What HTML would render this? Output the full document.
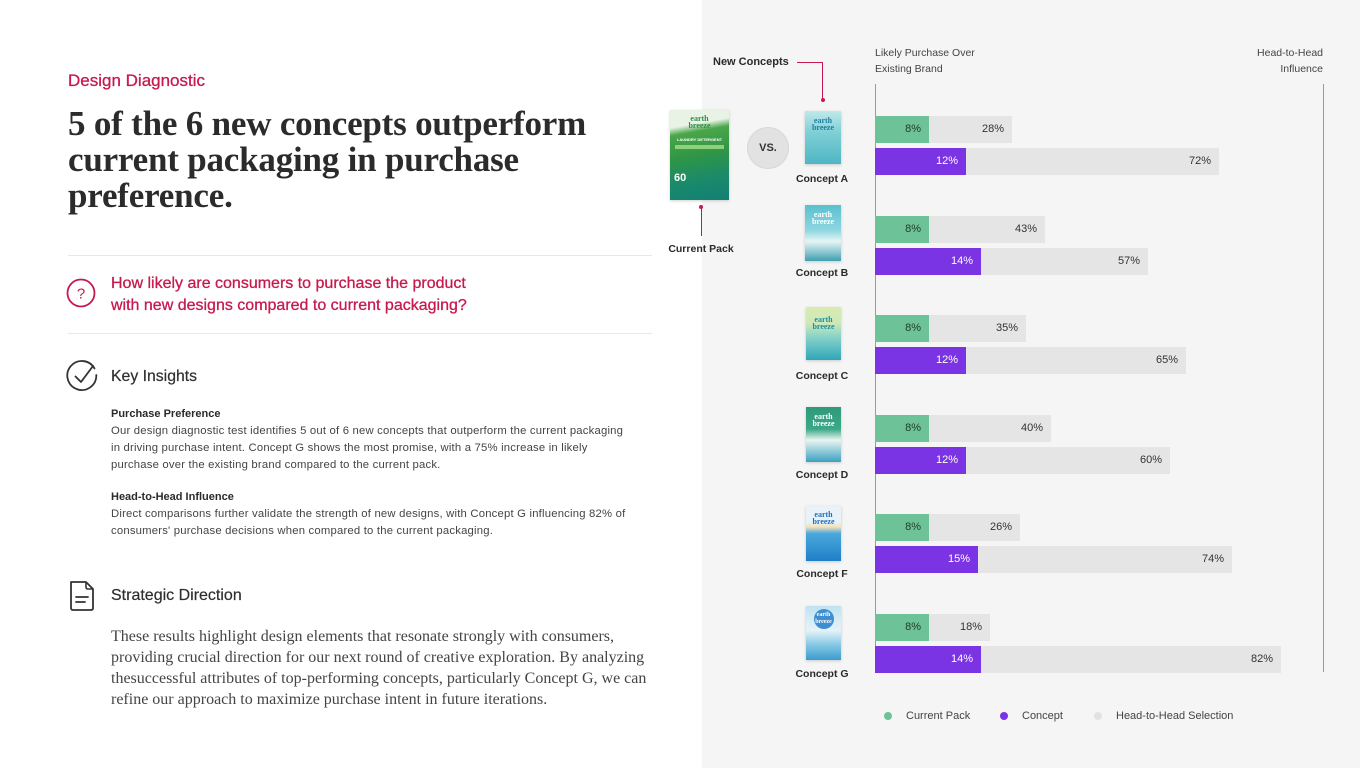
<!DOCTYPE html>
<html><head><meta charset="utf-8"><style>
*{margin:0;padding:0;box-sizing:border-box}
body{width:1360px;height:768px;overflow:hidden;background:#fff;position:relative;font-family:"Liberation Sans",Arial,sans-serif}
.a{position:absolute;white-space:nowrap}
.panel{position:absolute;left:702px;top:0;width:658px;height:768px;background:#f5f5f5}
.bar{position:absolute;height:27px;font-size:11px;line-height:27px;text-align:right;padding-right:8px}
.g{background:#6dc298;color:#1f3b2b}
.p{background:#7a34e4;color:#fff}
.gr{background:#e5e5e5;color:#333}
.lbl{position:absolute;width:80px;text-align:center;font-size:10.5px;font-weight:bold;color:#2a2a2a;line-height:14px}
.pack{position:absolute;box-shadow:0 1px 3px rgba(0,0,0,.18);overflow:hidden;font-family:"Liberation Serif",serif;color:#fff;text-align:center;font-size:8px;line-height:7px;font-weight:bold}
.body{font-size:11.3px;letter-spacing:0.2px;color:#444}
.body b{font-size:11px;letter-spacing:0;color:#2a2a2a}
</style></head><body>

<!-- LEFT -->
<div class="a" style="left:68px;top:71px;font-size:17px;line-height:20px;color:#c61a4f;-webkit-text-stroke:0.3px #c61a4f">Design Diagnostic</div>
<div class="a" style="left:68px;top:106px;font-family:'Liberation Serif',serif;font-weight:bold;font-size:35px;line-height:36px;color:#2b2b2b;letter-spacing:-0.2px">5 of the 6 new concepts outperform<br>current packaging in purchase<br>preference.</div>

<div class="a" style="left:68px;top:255px;width:584px;height:1px;background:#e8e8e8"></div>
<svg class="a" style="left:64px;top:276px" width="36" height="36" viewBox="0 0 36 36"><circle cx="17" cy="17" r="13.5" fill="none" stroke="#c61a4f" stroke-width="1.8"/><text x="17" y="22.5" text-anchor="middle" font-family="Liberation Sans" font-size="15" fill="#c61a4f">?</text></svg>
<div class="a" style="left:111px;top:273px;font-size:16px;line-height:22px;color:#c61a4f;-webkit-text-stroke:0.3px #c61a4f">How likely are consumers to purchase the product<br>with new designs compared to current packaging?</div>
<div class="a" style="left:68px;top:333px;width:584px;height:1px;background:#e8e8e8"></div>

<svg class="a" style="left:64px;top:359px" width="40" height="38" viewBox="0 0 40 38"><path d="M30.5 9.5 A14.5 14.5 0 1 0 32.3 16" fill="none" stroke="#333" stroke-width="1.8" stroke-linecap="round"/><path d="M11.5 17.5 L17 23 L29 7" fill="none" stroke="#333" stroke-width="1.8" stroke-linecap="round" stroke-linejoin="round"/></svg>
<div class="a" style="left:111px;top:367px;font-size:15.8px;line-height:20px;color:#2e2e2e;-webkit-text-stroke:0.2px #2e2e2e">Key Insights</div>

<div class="a body" style="left:111px;top:405.5px;line-height:17px"><b>Purchase Preference</b><br>Our design diagnostic test identifies 5 out of 6 new concepts that outperform the current packaging<br>in driving purchase intent. Concept G shows the most promise, with a 75% increase in likely<br>purchase over the existing brand compared to the current pack.</div>
<div class="a body" style="left:111px;top:488.5px;line-height:17px"><b>Head-to-Head Influence</b><br>Direct comparisons further validate the strength of new designs, with Concept G influencing 82% of<br>consumers' purchase decisions when compared to the current packaging.</div>

<svg class="a" style="left:66px;top:579px" width="32" height="34" viewBox="0 0 32 34"><path d="M5 3 H20 L27 10 V29 Q27 31 25 31 H7 Q5 31 5 29 Z" fill="none" stroke="#333" stroke-width="1.8" stroke-linejoin="round"/><path d="M20 3 V8 Q20 10 22 10 H27" fill="none" stroke="#333" stroke-width="1.6"/><path d="M10 18 H22 M10 23 H19" stroke="#333" stroke-width="1.8" stroke-linecap="round"/></svg>
<div class="a" style="left:111px;top:586px;font-size:16px;line-height:20px;color:#2e2e2e;-webkit-text-stroke:0.2px #2e2e2e">Strategic Direction</div>
<div class="a" style="left:111px;top:625.5px;font-family:'Liberation Serif',serif;font-size:16px;line-height:21px;color:#444">These results highlight design elements that resonate strongly with consumers,<br>providing crucial direction for our next round of creative exploration. By analyzing<br>thesuccessful attributes of top-performing concepts, particularly Concept G, we can<br>refine our approach to maximize purchase intent in future iterations.</div>

<!-- RIGHT PANEL -->
<div class="panel"></div>

<div class="a" style="left:713px;top:55px;font-size:11px;line-height:14px;font-weight:bold;color:#2a2a2a">New Concepts</div>
<div class="a" style="left:797px;top:62px;width:26px;height:1px;background:#c61a4f"></div>
<div class="a" style="left:822px;top:62px;width:1px;height:38px;background:#c61a4f"></div>
<div class="a" style="left:820.5px;top:97.5px;width:4px;height:4px;border-radius:50%;background:#c61a4f"></div>

<div class="a" style="left:875px;top:45px;font-size:10.5px;line-height:16px;color:#444">Likely Purchase Over<br>Existing Brand</div>
<div class="a" style="left:1223px;top:45px;width:100px;text-align:right;font-size:10.5px;line-height:16px;color:#444">Head-to-Head<br>Influence</div>

<div class="a" style="left:875px;top:84px;width:1px;height:588px;background:#9a9a9a"></div>
<div class="a" style="left:1323px;top:84px;width:1px;height:588px;background:#9a9a9a"></div>

<!-- current pack -->
<div class="pack" style="left:670px;top:110px;width:59px;height:90px;background:linear-gradient(170deg,#e8f3e6 0%,#e8f3e6 18%,#4aa649 26%,#2f9646 50%,#1a8a6a 75%,#128074 100%)">
<div style="color:#2f8f46;padding-top:5px;font-size:8px">earth<br>breeze</div>
<div style="font-family:'Liberation Sans';font-size:4px;line-height:5px;margin-top:8px">LAUNDRY DETERGENT</div>
<div style="margin:3px 5px;height:4px;background:#8fd07a"></div>
<div style="font-family:'Liberation Sans';font-size:11px;line-height:11px;text-align:left;padding-left:4px;margin-top:24px">60</div>
</div>
<div class="a" style="left:699px;top:205px;width:4px;height:4px;border-radius:50%;background:#c61a4f"></div>
<div class="a" style="left:700.5px;top:207px;width:1px;height:29px;background:#c61a4f"></div>
<div class="lbl" style="left:661px;top:242px">Current Pack</div>

<div class="a" style="left:747px;top:127px;width:42px;height:42px;border-radius:50%;background:#e2e2e2;border:1px solid #d6d6d6;text-align:center;line-height:40px;font-size:11px;font-weight:bold;color:#333">VS.</div>

<!-- concept packs -->
<div class="pack" style="left:805px;top:111px;width:36px;height:53px;background:linear-gradient(180deg,#bfe8ea 0%,#7fd0d6 40%,#4fb6c4 100%)"><div style="padding-top:6px;color:#1f7f9a">earth<br>breeze</div></div>
<div class="lbl" style="left:782px;top:172px">Concept A</div>

<div class="pack" style="left:805px;top:205px;width:36px;height:56px;background:linear-gradient(180deg,#5bc0cf 0%,#8fd6df 45%,#e6f5f5 65%,#3f9fb0 100%)"><div style="padding-top:6px">earth<br>breeze</div></div>
<div class="lbl" style="left:782px;top:266px">Concept B</div>

<div class="pack" style="left:806px;top:307px;width:35px;height:53px;background:linear-gradient(180deg,#d8ecb0 0%,#cfe8b8 30%,#7fd0c8 60%,#2fa6b8 100%)"><div style="padding-top:9px;color:#1f8fa0">earth<br>breeze</div></div>
<div class="lbl" style="left:782px;top:369px">Concept C</div>

<div class="pack" style="left:806px;top:407px;width:35px;height:55px;background:linear-gradient(180deg,#2f9a7a 0%,#3aa887 40%,#eaf5f2 60%,#3aa0c0 100%)"><div style="padding-top:6px">earth<br>breeze</div></div>
<div class="lbl" style="left:782px;top:468px">Concept D</div>

<div class="pack" style="left:806px;top:506px;width:35px;height:55px;background:linear-gradient(180deg,#e8f2f8 0%,#e8f2f8 30%,#f3e2b8 38%,#4aa8dd 50%,#1f7fc6 100%)"><div style="padding-top:5px;color:#1f6fc0">earth<br>breeze</div></div>
<div class="lbl" style="left:782px;top:567px">Concept F</div>

<div class="pack" style="left:806px;top:606px;width:35px;height:54px;background:linear-gradient(180deg,#bfe3f2 0%,#e6f3f8 45%,#8ccbe6 70%,#3b9ccc 100%)"><div style="margin:3px auto 0;width:20px;height:20px;border-radius:50%;background:#3f8fd0;line-height:7px;padding-top:3px;font-size:6px">earth<br>breeze</div></div>
<div class="lbl" style="left:782px;top:667px">Concept G</div>

<!-- bars -->
<div class="bar gr" style="left:875px;top:116px;width:137px">28%</div>
<div class="bar g" style="left:875px;top:116px;width:54px">8%</div>
<div class="bar gr" style="left:875px;top:148px;width:344px">72%</div>
<div class="bar p" style="left:875px;top:148px;width:91px">12%</div>

<div class="bar gr" style="left:875px;top:216px;width:170px">43%</div>
<div class="bar g" style="left:875px;top:216px;width:54px">8%</div>
<div class="bar gr" style="left:875px;top:248px;width:273px">57%</div>
<div class="bar p" style="left:875px;top:248px;width:106px">14%</div>

<div class="bar gr" style="left:875px;top:315px;width:151px">35%</div>
<div class="bar g" style="left:875px;top:315px;width:54px">8%</div>
<div class="bar gr" style="left:875px;top:347px;width:311px">65%</div>
<div class="bar p" style="left:875px;top:347px;width:91px">12%</div>

<div class="bar gr" style="left:875px;top:415px;width:176px">40%</div>
<div class="bar g" style="left:875px;top:415px;width:54px">8%</div>
<div class="bar gr" style="left:875px;top:447px;width:295px">60%</div>
<div class="bar p" style="left:875px;top:447px;width:91px">12%</div>

<div class="bar gr" style="left:875px;top:514px;width:145px">26%</div>
<div class="bar g" style="left:875px;top:514px;width:54px">8%</div>
<div class="bar gr" style="left:875px;top:546px;width:357px">74%</div>
<div class="bar p" style="left:875px;top:546px;width:103px">15%</div>

<div class="bar gr" style="left:875px;top:614px;width:115px">18%</div>
<div class="bar g" style="left:875px;top:614px;width:54px">8%</div>
<div class="bar gr" style="left:875px;top:646px;width:406px">82%</div>
<div class="bar p" style="left:875px;top:646px;width:106px">14%</div>

<!-- legend -->
<div class="a" style="left:884px;top:712px;width:8px;height:8px;border-radius:50%;background:#6dc298"></div>
<div class="a" style="left:906px;top:709px;font-size:11px;line-height:14px;color:#444">Current Pack</div>
<div class="a" style="left:1000px;top:712px;width:8px;height:8px;border-radius:50%;background:#7a34e4"></div>
<div class="a" style="left:1022px;top:709px;font-size:11px;line-height:14px;color:#444">Concept</div>
<div class="a" style="left:1094px;top:712px;width:8px;height:8px;border-radius:50%;background:#e2e2e2"></div>
<div class="a" style="left:1116px;top:709px;font-size:11px;line-height:14px;color:#444">Head-to-Head Selection</div>

</body></html>
